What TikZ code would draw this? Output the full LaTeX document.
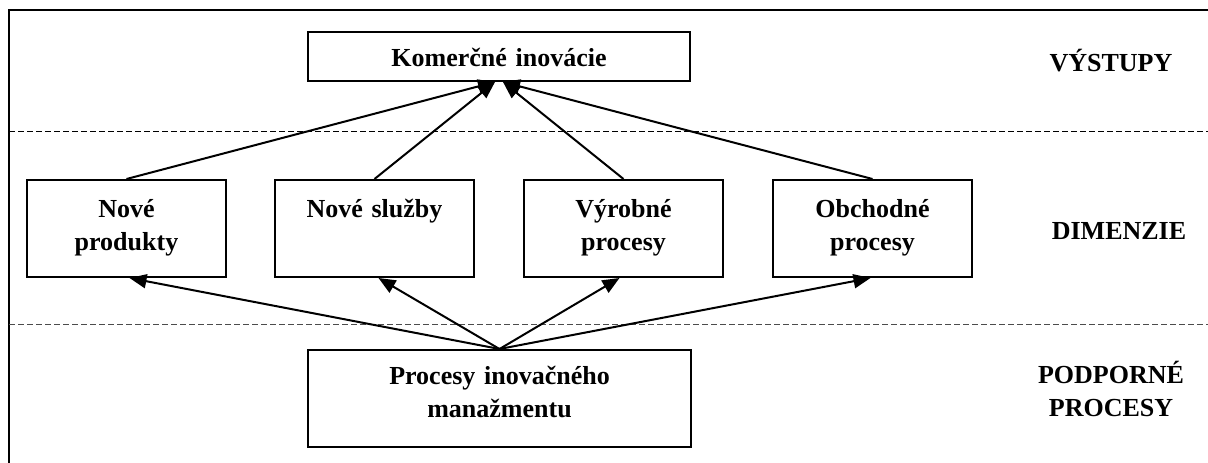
\documentclass[tikz,border=0pt]{standalone}
\usepackage{fontspec}
\setmainfont{Liberation Serif}
\usetikzlibrary{arrows.meta, positioning}

\tikzset{
  boxfont/.style={font=\bfseries\fontsize{26}{33}\selectfont},
  dimbox/.style={draw, line width=2pt, inner sep=0pt, align=center, boxfont,
    text width=199pt, text height=37pt, text depth=60pt, anchor=north west},
  layerlabel/.style={inner sep=0pt, align=center, boxfont, text width=180pt, anchor=base},
  uparrow/.style={line width=2pt, -{Triangle[length=17pt, width=14pt]}},
  layerline/.style={line width=1pt, dash pattern=on 6pt off 3pt}
}

\begin{document}
\begin{tikzpicture}[x=1pt, y=-1pt]
  \useasboundingbox (0,0) rectangle (1208,463);

  % frame and layer separators
  \draw[line width=1.6pt] (9,463) -- (9,10) -- (1208,10);
  \draw[layerline] (9,131) -- (1208,131);
  \draw[layerline, black!70] (9,324) -- (1208,324);

  % boxes
  \node[draw, line width=2pt, inner sep=0pt, align=center, boxfont, anchor=north west,
    text width=382pt, text height=34pt, text depth=15pt] (komerc) at (307,31) {Komerčné inovácie};
  \node[dimbox] (produkty) at (26,179) {Nové\\produkty};
  \node[dimbox] (sluzby) at (274,179) {Nové služby};
  \node[dimbox] (vyroba) at (523,179) {Výrobné\\procesy};
  \node[dimbox] (obchod) at (772,179) {Obchodné\\procesy};
  \node[draw, line width=2pt, inner sep=0pt, align=center, boxfont, anchor=north west,
    text width=383pt, text height=34pt, text depth=63pt] (manaz) at (307,349) {Procesy inovačného\\manažmentu};

  % layer names
  \node[layerlabel] (vystupy) at (1111,71) {VÝSTUPY};
  \node[layerlabel] (dimenzie) at (1119,239) {DIMENZIE};
  \node[layerlabel] (podporne) at (1111,383) {PODPORNÉ\\PROCESY};

  % arrows
  \draw[uparrow] (produkty.north) -- ([xshift=-4pt]komerc.south);
  \draw[uparrow] (sluzby.north) -- ([xshift=-4pt]komerc.south);
  \draw[uparrow] (vyroba.north) -- ([xshift=4pt]komerc.south);
  \draw[uparrow] (obchod.north) -- ([xshift=4pt]komerc.south);
  \draw[uparrow] (manaz.north) -- ([xshift=3pt]produkty.south);
  \draw[uparrow] (manaz.north) -- ([xshift=4pt]sluzby.south);
  \draw[uparrow] (manaz.north) -- ([xshift=-4pt]vyroba.south);
  \draw[uparrow] (manaz.north) -- ([xshift=-2pt]obchod.south);
\end{tikzpicture}
\end{document}
